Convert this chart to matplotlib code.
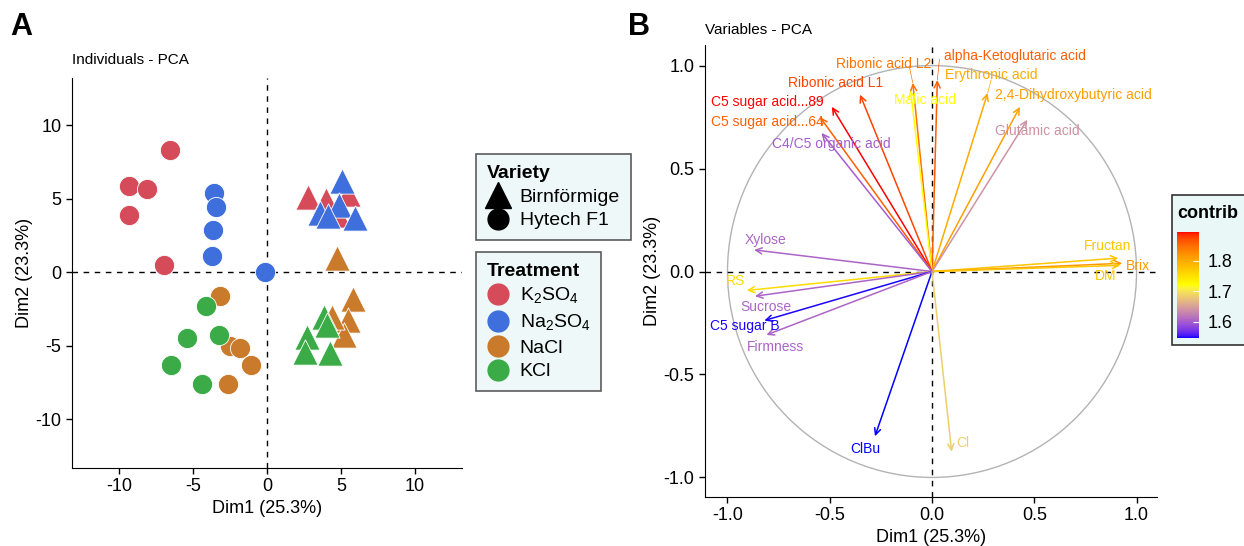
import numpy as np
import matplotlib
matplotlib.use('Agg')
import matplotlib.pyplot as plt
import matplotlib.colors as mcolors
from matplotlib.lines import Line2D
from matplotlib.patches import Rectangle, Circle

plt.rcParams['font.family'] = ['Liberation Sans', 'DejaVu Sans']
plt.rcParams['mathtext.fontset'] = 'custom'
plt.rcParams['mathtext.rm'] = 'Liberation Sans'
plt.rcParams['axes.unicode_minus'] = False

# ---- individuals (panel A) ----
treatments = ['K2SO4', 'Na2SO4', 'NaCl', 'KCl']
treatment_labels = [r'K$_\mathregular{2}$SO$_\mathregular{4}$', r'Na$_\mathregular{2}$SO$_\mathregular{4}$', 'NaCl', 'KCl']
treatment_colors = ['#d64b5a', '#3f6fdc', '#c97a2a', '#3aab47']
varieties = ['Birnförmige', 'Hytech F1']

ind_treat = ['K2SO4'] * 9 + ['Na2SO4'] * 10 + ['NaCl'] * 10 + ['KCl'] * 10
ind_variety = (['Hytech F1'] * 5 + ['Birnförmige'] * 4
               + ['Hytech F1'] * 5 + ['Birnförmige'] * 5
               + ['Hytech F1'] * 5 + ['Birnförmige'] * 5
               + ['Hytech F1'] * 5 + ['Birnförmige'] * 5)
ind_dim1 = [-6.6, -9.35, -8.1, -9.35, -7.0, 2.8, 4.0, 5.5, 4.8,
            -3.6, -3.43, -3.67, -3.72, -0.11, 5.05, 4.9, 3.6, 4.1, 5.97,
            -3.16, -2.48, -1.8, -1.08, -2.66, 4.73, 5.85, 5.5, 5.18, 4.39,
            -4.12, -5.4, -3.22, -6.53, -4.39, 3.83, 4.05, 2.7, 2.59, 4.28]
ind_dim2 = [8.3, 5.83, 5.65, 3.91, 0.5, 5.1, 4.9, 5.3, 3.9,
            5.4, 4.46, 2.88, 1.13, 0.0, 6.2, 4.6, 4.0, 3.8, 3.7,
            -1.62, -5.0, -5.18, -6.3, -7.6, 1.0, -1.8, -3.26, -4.28, -3.04,
            -2.3, -4.5, -4.28, -6.3, -7.6, -3.04, -3.6, -4.39, -5.4, -5.5]

# ---- variables (panel B) ----
var_names = ['alpha-Ketoglutaric acid', 'Erythronic acid', '2,4-Dihydroxybutyric acid',
             'Ribonic acid L2', 'Malic acid', 'Ribonic acid L1', 'C5 sugar acid...89',
             'C5 sugar acid...64', 'C4/C5 organic acid', 'Glutamic acid', 'Xylose',
             'Fructan', 'Brix', 'DM', 'RS', 'Sucrose', 'C5 sugar B', 'Firmness',
             'ClBu', 'Cl']
var_x = [0.026, 0.272, 0.43, -0.094, -0.105, -0.352, -0.49, -0.548, -0.54, 0.466,
         -0.87, 0.911, 0.93, 0.92, -0.906, -0.866, -0.82, -0.81, -0.279, 0.096]
var_y = [0.93, 0.867, 0.80, 0.916, 0.88, 0.859, 0.80, 0.75, 0.673, 0.737,
         0.105, 0.065, 0.04, 0.03, -0.092, -0.12, -0.238, -0.308, -0.80, -0.875]
contrib = [1.86, 1.80, 1.81, 1.845, 1.72, 1.875, 1.895, 1.86, 1.60, 1.64,
           1.605, 1.775, 1.815, 1.775, 1.755, 1.605, 1.548, 1.605, 1.546, 1.685]
label_x = [0.403, 0.289, 0.689, -0.235, -0.034, -0.474, -0.804, -0.807, -0.49, 0.516,
           -0.812, 0.856, 1.007, 0.851, -0.963, -0.812, -0.914, -0.763, -0.328, 0.149]
label_y = [1.049, 0.956, 0.859, 1.010, 0.835, 0.917, 0.822, 0.728, 0.621, 0.681,
           0.151, 0.122, 0.029, -0.021, -0.044, -0.170, -0.267, -0.365, -0.862, -0.831]
# repel segments: variable -> label anchor
seg_vars = ['alpha-Ketoglutaric acid', 'Ribonic acid L2', 'Erythronic acid']
seg_end_x = [0.036, -0.11, 0.289]
seg_end_y = [1.03, 0.99, 0.93]


# blue -> yellow -> red gradient interpolated in Lab space (like ggplot)
M = np.array([[0.4124, 0.3576, 0.1805], [0.2126, 0.7152, 0.0722], [0.0193, 0.1192, 0.9505]])
WHITE = np.array([0.95047, 1.0, 1.08883])


def to_lab(c):
    rgb = np.array(mcolors.to_rgb(c))
    lin = np.where(rgb <= 0.04045, rgb / 12.92, ((rgb + 0.055) / 1.055) ** 2.4)
    xyz = M @ lin / WHITE
    f = np.where(xyz > 0.008856, np.cbrt(xyz), 7.787 * xyz + 16 / 116)
    return np.array([116 * f[1] - 16, 500 * (f[0] - f[1]), 200 * (f[1] - f[2])])


def from_lab(lab):
    fy = (lab[0] + 16) / 116
    f = np.array([fy + lab[1] / 500, fy, fy - lab[2] / 200])
    xyz = np.where(f ** 3 > 0.008856, f ** 3, (f - 16 / 116) / 7.787) * WHITE
    lin = np.clip(np.linalg.inv(M) @ xyz, 0, None)
    rgb = np.where(lin <= 0.0031308, 12.92 * lin, 1.055 * lin ** (1 / 2.4) - 0.055)
    return np.clip(rgb, 0, 1)


stops = [to_lab('blue'), to_lab('yellow'), to_lab('red')]
grad = []
for t in np.linspace(0, 1, 256):
    i = 0 if t < 0.5 else 1
    u = (t - 0.5 * i) * 2
    grad.append(from_lab(stops[i] * (1 - u) + stops[i + 1] * u))
cmap = mcolors.ListedColormap(grad)
norm = mcolors.Normalize(vmin=1.546, vmax=1.895)

W, H = 1244, 546
fig = plt.figure(figsize=(W / 100, H / 100), dpi=100)


def fx(px):
    return px / W


def fy(py):
    return 1 - py / H


# ---------------- panel A ----------------
ax1 = fig.add_axes([fx(72), fy(468), fx(390), 390 / H])
ax1.axhline(0, color='black', ls=(0, (4, 4)), lw=1, zorder=1)
ax1.axvline(0, color='black', ls=(0, (4, 4)), lw=1, zorder=1)
for t, col in zip(treatments, treatment_colors):
    for v, mk, sz in zip(varieties, ['^', 'o'], [330, 210]):
        xs = [x for x, tt, vv in zip(ind_dim1, ind_treat, ind_variety) if tt == t and vv == v]
        ys = [y for y, tt, vv in zip(ind_dim2, ind_treat, ind_variety) if tt == t and vv == v]
        ax1.scatter(xs, ys, marker=mk, s=sz, color=col, edgecolor='white', linewidth=0.6, zorder=3)
ax1.set_xlim(-13.2, 13.2)
ax1.set_ylim(-13.3, 13.2)
ax1.set_xticks([-10, -5, 0, 5, 10])
ax1.set_yticks([-10, -5, 0, 5, 10])
ax1.set_xlabel('Dim1 (25.3%)', fontsize=13, labelpad=3)
ax1.set_ylabel('Dim2 (23.3%)', fontsize=13, labelpad=2)
ax1.tick_params(labelsize=13, length=4, width=1)
for s in ['top', 'right']:
    ax1.spines[s].set_visible(False)
fig.text(fx(72), fy(60), 'Individuals - PCA', fontsize=11, va='center')
fig.text(fx(10), fy(27), 'A', fontsize=22, fontweight='black', va='center')

# legends
leg_face = '#eaf7f7'
leg_kw = dict(loc='upper left', fontsize=14, title_fontsize=14, frameon=True, fancybox=False,
              facecolor=leg_face, edgecolor='#333333', handlelength=1.2, handletextpad=0.5,
              labelspacing=0.32, borderpad=0.55, borderaxespad=0)
var_handles = [Line2D([], [], marker='^', color='black', ls='', markersize=19),
               Line2D([], [], marker='o', color='black', ls='', markersize=15)]
leg1 = fig.legend(var_handles, varieties, title='Variety', bbox_to_anchor=(fx(476), fy(154)), **leg_kw)
trt_handles = [Line2D([], [], marker='o', color=c, ls='', markersize=15) for c in treatment_colors]
leg2 = fig.legend(trt_handles, treatment_labels, title='Treatment', bbox_to_anchor=(fx(476), fy(252)), **leg_kw)
for leg in [leg1, leg2]:
    leg._legend_box.align = 'left'
    leg.get_title().set_fontweight('bold')
    leg.get_frame().set_linewidth(1.2)

# ---------------- panel B ----------------
ax2 = fig.add_axes([fx(705), fy(497), fx(452), 452 / H])
ax2.add_patch(Circle((0, 0), 1, fill=False, color='#b3b3b3', lw=1, zorder=1))
ax2.axhline(0, color='black', ls=(0, (4, 4)), lw=1, zorder=1)
ax2.axvline(0, color='black', ls=(0, (4, 4)), lw=1, zorder=1)
for name, x, y, c, lx, ly in zip(var_names, var_x, var_y, contrib, label_x, label_y):
    col = cmap(norm(c))
    ax2.annotate('', xy=(x, y), xytext=(0, 0),
                 arrowprops=dict(arrowstyle='->,head_length=0.45,head_width=0.22', color=col,
                                 lw=1.1, shrinkA=0, shrinkB=0), zorder=2)
    ax2.text(lx, ly, name, color=col, fontsize=10, ha='center', va='center', zorder=3)
for name, sx, sy in zip(seg_vars, seg_end_x, seg_end_y):
    i = var_names.index(name)
    ax2.plot([var_x[i], sx], [var_y[i], sy], color=cmap(norm(contrib[i])), lw=0.5, zorder=2)
ax2.set_xlim(-1.11, 1.10)
ax2.set_ylim(-1.095, 1.10)
ax2.set_xticks([-1.0, -0.5, 0.0, 0.5, 1.0])
ax2.set_yticks([-1.0, -0.5, 0.0, 0.5, 1.0])
ax2.set_xlabel('Dim1 (25.3%)', fontsize=13, labelpad=3)
ax2.set_ylabel('Dim2 (23.3%)', fontsize=13, labelpad=2)
ax2.tick_params(labelsize=13, length=4, width=1)
for s in ['top', 'right']:
    ax2.spines[s].set_visible(False)
fig.text(fx(705), fy(30), 'Variables - PCA', fontsize=11, va='center')
fig.text(fx(628), fy(27), 'B', fontsize=22, fontweight='black', va='center')

# contrib colourbar legend
fig.add_artist(Rectangle((fx(1172), fy(345)), 0.2, 150 / H, transform=fig.transFigure,
                         facecolor=leg_face, edgecolor='#333333', lw=1.2, zorder=0))
fig.text(fx(1177), fy(214), 'contrib', fontsize=13, fontweight='bold', va='center')
cax = fig.add_axes([fx(1177), fy(338), fx(22), 106 / H])
cb = fig.colorbar(matplotlib.cm.ScalarMappable(norm=norm, cmap=cmap), cax=cax, ticks=[1.6, 1.7, 1.8])
cb.outline.set_visible(False)
cax.tick_params(direction='in', color='white', length=4, width=0.8, labelsize=13, pad=6)

fig.savefig('out.png', dpi=100)
